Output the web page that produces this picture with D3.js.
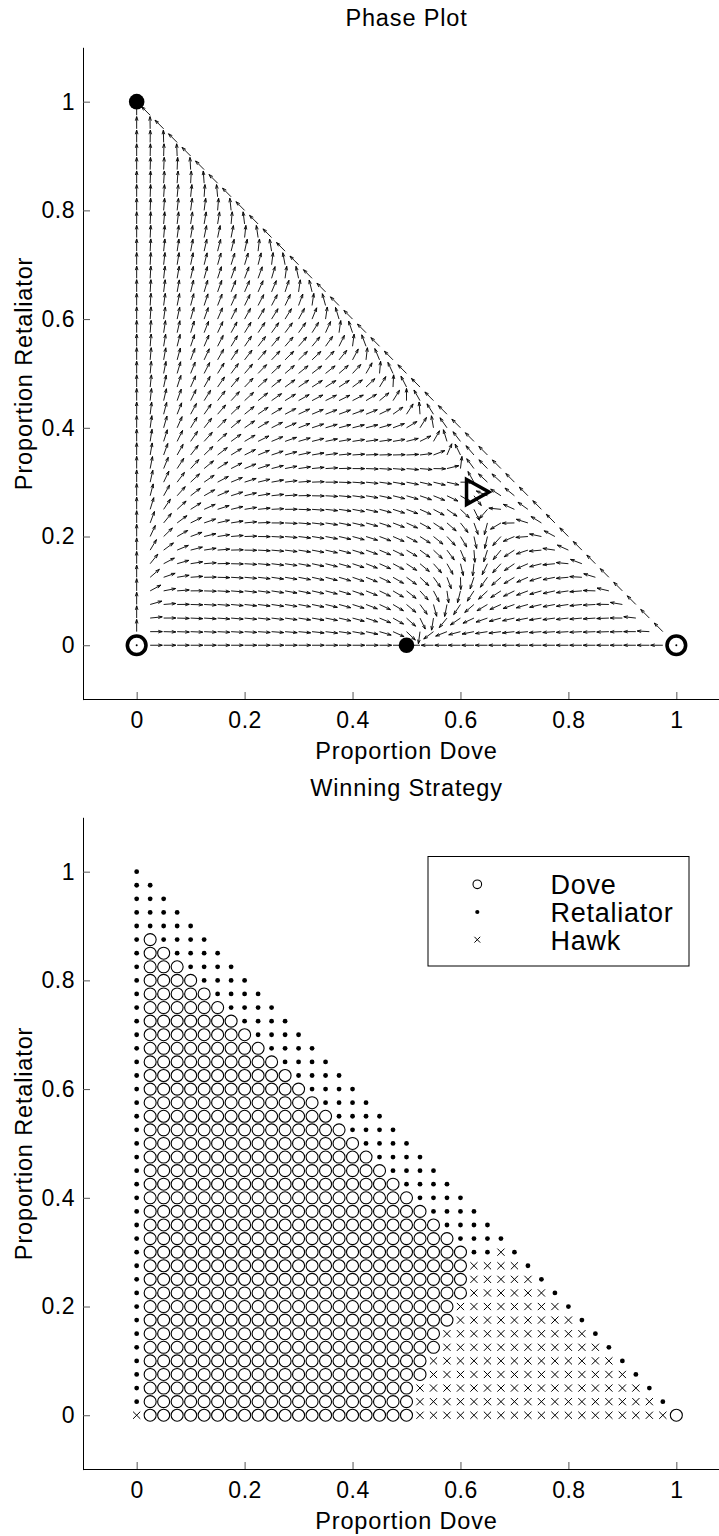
<!DOCTYPE html>
<html>
<head>
<meta charset="utf-8">
<script src="https://cdn.jsdelivr.net/npm/d3@7"></script>
<style>
  html, body { margin: 0; padding: 0; background: #fff; }
  svg { display: block; }
  text { font-family: "Liberation Sans", Arial, Helvetica, sans-serif; fill: #000; }
</style>
</head>
<body>
<svg id="fig" width="719" height="1536"></svg>
<script>
// Hawk–Dove–Retaliator game: payoff to the row strategy when meeting the column strategy.
// Order of strategies: Hawk, Dove, Retaliator.
const strategyNames = ["Hawk", "Dove", "Retaliator"];
const payoff = [
  [-1,  2,   -1 ],
  [ 0,  1,    0.9],
  [-1,  1.1,  1 ]
];

// Rest points (x = proportion Dove, y = proportion Retaliator) and their marker style.
const restDove = [0, 0.5, 0, 1, 0.627];
const restRet  = [1, 0,   0, 0, 0.282];
const restKind = ["stable", "stable", "unstable", "unstable", "saddle"];

// Sampling step of the simplex for both panels.
const gridStep = 0.025;
const gridCount = 40;

const tickValues = [0, 0.2, 0.4, 0.6, 0.8, 1];
const tickLabels = ["0", "0.2", "0.4", "0.6", "0.8", "1"];

// Strategy with the largest gain at each grid point, one string per row
// (Retaliator = 0, 0.025, ... 1), run-length coded from Dove = 0 to the hypotenuse.
// D = Dove, R = Retaliator, H = Hawk.
const winnerRows = [
  "H1 D20 H19 D1",
  "R1 D20 H18 R1",
  "R1 D20 H17 R1",
  "R1 D21 H15 R1",
  "R1 D21 H14 R1",
  "R1 D22 H12 R1",
  "R1 D22 H11 R1",
  "R1 D23 H9 R1",
  "R1 D23 H8 R1",
  "R1 D24 H6 R1",
  "R1 D24 H5 R1",
  "R1 D24 H4 R1",
  "R1 D24 R2 H1 R1",
  "R1 D23 R4",
  "R1 D22 R4",
  "R1 D21 R4",
  "R1 D20 R4",
  "R1 D19 R4",
  "R1 D18 R4",
  "R1 D17 R4",
  "R1 D16 R4",
  "R1 D15 R4",
  "R1 D14 R4",
  "R1 D13 R4",
  "R1 D12 R4",
  "R1 D11 R4",
  "R1 D10 R4",
  "R1 D9 R4",
  "R1 D8 R4",
  "R1 D7 R4",
  "R1 D6 R4",
  "R1 D5 R4",
  "R1 D4 R4",
  "R1 D3 R4",
  "R1 D2 R4",
  "R1 D1 R4",
  "R5",
  "R4",
  "R3",
  "R2",
  "R1"
];

const legendCodes  = ["D", "R", "H"];
const legendLabels = ["Dove", "Retaliator", "Hawk"];

// ---------------------------------------------------------------- layout
const svg = d3.select("#fig");
const domain = [-0.1, 1.1];
const x = d3.scaleLinear().domain(domain).range([82.7, 730.3]);
const panelOffsets = [0, 770];
const yScales = panelOffsets.map(o => d3.scaleLinear().domain(domain).range([699.6 + o, 47.3 + o]));

const FONT = 23.5, LS = "0.85px";

function drawAxes(g, y, off, title) {
  const ax = g.append("g").attr("transform", `translate(0,${Math.round(y(-0.1)) - 1})`)
    .call(d3.axisBottom(x).tickValues(tickValues)
      .tickFormat((d, i) => tickLabels[i])
      .tickSizeInner(-7).tickSizeOuter(0).tickPadding(13));
  const ay = g.append("g").attr("transform", `translate(${Math.round(x(-0.1))},0)`)
    .call(d3.axisLeft(y).tickValues(tickValues)
      .tickFormat((d, i) => tickLabels[i])
      .tickSizeInner(-7).tickSizeOuter(0).tickPadding(8));
  [ax, ay].forEach(a => {
    a.select(".domain").attr("stroke", "#000").attr("stroke-width", 1);
    a.selectAll(".tick line").attr("stroke", "#555").attr("stroke-width", 1);
    a.selectAll(".tick text").attr("font-size", 23).attr("letter-spacing", "0.5px")
      .attr("fill", "#000");
  });
  a_fix(ax); a_fix(ay);
  g.append("text").attr("x", x(0.5)).attr("y", 26 + off)
    .attr("text-anchor", "middle").attr("font-size", FONT).attr("letter-spacing", LS)
    .text(title);
  g.append("text").attr("x", x(0.5)).attr("y", 759 + off)
    .attr("text-anchor", "middle").attr("font-size", FONT).attr("letter-spacing", LS)
    .text("Proportion Dove");
  g.append("text")
    .attr("transform", `translate(32,${(y(-0.1) + y(1.1)) / 2}) rotate(-90)`)
    .attr("text-anchor", "middle").attr("font-size", FONT).attr("letter-spacing", LS)
    .text("Proportion Retaliator");
}
// axis groups carry their own font settings; let the page font apply instead
function a_fix(a) { a.attr("font-family", null).attr("font-size", null); }

// ---------------------------------------------------------------- phase plot
function growth(d, r) {
  const h = Math.max(0, 1 - d - r);
  const p = [h, d, r];
  const fit = payoff.map(row => d3.sum(row, (a, i) => a * p[i]));
  const mean = d3.sum(p, (pi, i) => pi * fit[i]);
  return [d * (fit[1] - mean), r * (fit[2] - mean)];
}

const topPanel = svg.append("g");
const yTop = yScales[0];
drawAxes(topPanel, yTop, 0, "Phase Plot");

const arrows = [];
for (let k = 0; k <= gridCount; k++) {
  for (let j = 0; j <= gridCount - k; j++) {
    const d = j * gridStep, r = k * gridStep;
    const [u, v] = growth(d, r);
    const len = Math.hypot(u, v);
    if (len < 1e-9) continue;
    arrows.push({ d, r, u: u / len * 0.9 * gridStep, v: v / len * 0.9 * gridStep });
  }
}

const alpha = 0.33, beta = 0.33;
topPanel.append("g").attr("fill", "none").attr("stroke", "#000").attr("stroke-width", 0.9)
  .selectAll("path").data(arrows).join("path")
  .attr("d", a => {
    const X0 = x(a.d), Y0 = yTop(a.r);
    const X1 = x(a.d + a.u), Y1 = yTop(a.r + a.v);
    const U = X1 - X0, V = Y1 - Y0;
    const b1x = X1 - alpha * (U + beta * V), b1y = Y1 - alpha * (V - beta * U);
    const b2x = X1 - alpha * (U - beta * V), b2y = Y1 - alpha * (V + beta * U);
    return `M${X0},${Y0}L${X1},${Y1}M${b1x},${b1y}L${X1},${Y1}L${b2x},${b2y}`;
  });

const rest = restDove.map((d, i) => ({ d, r: restRet[i], kind: restKind[i] }));
const rg = topPanel.append("g");
rest.forEach(p => {
  const cx = x(p.d), cy = yTop(p.r);
  if (p.kind === "stable") {
    rg.append("circle").attr("cx", cx).attr("cy", cy).attr("r", 7.8).attr("fill", "#000");
  } else if (p.kind === "unstable") {
    rg.append("circle").attr("cx", cx).attr("cy", cy).attr("r", 9.3)
      .attr("fill", "#fff").attr("stroke", "#000").attr("stroke-width", 3.6);
    rg.append("circle").attr("cx", cx).attr("cy", cy).attr("r", 1).attr("fill", "#000");
  } else {
    rg.append("path")
      .attr("d", `M${cx - 8.5},${cy - 12.5}L${cx + 14},${cy}L${cx - 8.5},${cy + 12.5}Z`)
      .attr("fill", "none").attr("stroke", "#000").attr("stroke-width", 3.5)
      .attr("stroke-linejoin", "miter");
  }
});

// ---------------------------------------------------------------- winning strategy
const bottomPanel = svg.append("g");
const yBottom = yScales[1];
drawAxes(bottomPanel, yBottom, 770, "Winning Strategy");

const cells = [];
winnerRows.forEach((row, k) => {
  let j = 0;
  row.split(" ").forEach(run => {
    const code = run[0], n = +run.slice(1);
    for (let m = 0; m < n; m++, j++) cells.push({ d: j * gridStep, r: k * gridStep, code });
  });
});

function drawMarker(g, code, cx, cy, small) {
  if (code === "D") {
    g.append("circle").attr("cx", cx).attr("cy", cy).attr("r", small ? 4.3 : 6)
      .attr("fill", "none").attr("stroke", "#000").attr("stroke-width", 1.1);
  } else if (code === "R") {
    g.append("circle").attr("cx", cx).attr("cy", cy).attr("r", small ? 2.1 : 2.4).attr("fill", "#000");
  } else {
    const s = small ? 2.9 : 3.6;
    g.append("path")
      .attr("d", `M${cx - s},${cy - s}L${cx + s},${cy + s}M${cx - s},${cy + s}L${cx + s},${cy - s}`)
      .attr("stroke", "#000").attr("stroke-width", 1);
  }
}

const mg = bottomPanel.append("g");
cells.forEach(c => drawMarker(mg, c.code, x(c.d), yBottom(c.r), false));

// legend
const lg = bottomPanel.append("g");
lg.append("rect").attr("x", 428).attr("y", 856.5).attr("width", 261).attr("height", 109.5)
  .attr("fill", "#fff").attr("stroke", "#000").attr("stroke-width", 1);
legendCodes.forEach((code, i) => {
  const cy = 884.3 + i * 27.7;
  drawMarker(lg, code, 477.3, cy, true);
  lg.append("text").attr("x", 550.5).attr("y", cy + 9.8)
    .attr("font-size", 27).attr("letter-spacing", "0.75px")
    .text(legendLabels[i]);
});
</script>
</body>
</html>
